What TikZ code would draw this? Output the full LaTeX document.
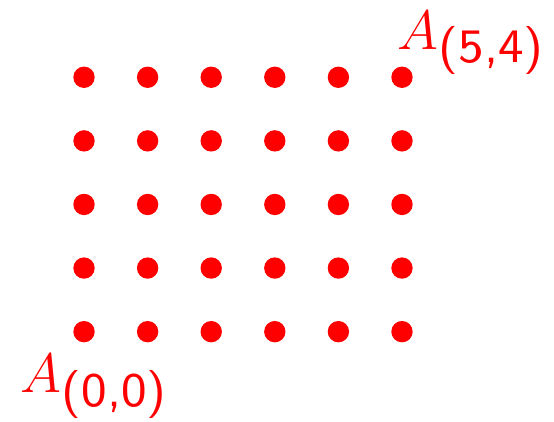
\documentclass[tikz,border=0pt]{standalone}
\usepackage{fontspec}
\newfontfamily\subsf{lmsans8-regular.otf}
\definecolor{dotred}{RGB}{255,0,0}
\newcommand{\gridlab}[1]{{\fontsize{23.4}{28}\selectfont$A$}\raisebox{-6pt}{\fontsize{21.5}{26}\subsf (#1)}}
\begin{document}
\begin{tikzpicture}[
  gdot/.style={circle,fill=dotred,inner sep=0pt,minimum size=0.336cm},
  lab/.style={text=dotred,inner sep=0pt,anchor=base west}
]
\useasboundingbox (-1.321,-1.42) rectangle (7.390,5.215);
\foreach \i in {0,...,5}
  \foreach \j in {0,...,4}
    \node[gdot] (d\i\j) at (\i,\j) {};
\node[lab] (a54) at (4.93,4.44) {\gridlab{5,4}};
\node[lab] (a00) at (-1.0,-0.96) {\gridlab{0,0}};
\end{tikzpicture}
\end{document}
